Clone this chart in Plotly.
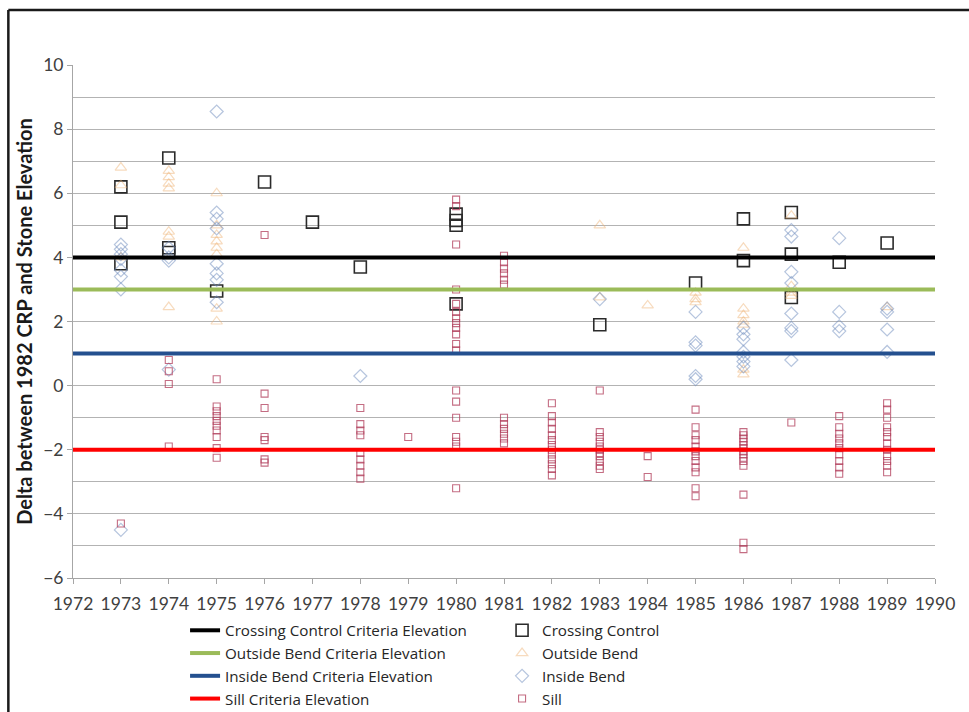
import plotly.graph_objects as go

# ---- data -------------------------------------------------------------
cc_years = [1973, 1973, 1973, 1974, 1974, 1974, 1975, 1976, 1977, 1978,
            1980, 1980, 1980, 1980, 1983, 1985, 1986, 1986, 1987, 1987, 1987,
            1988, 1989]
cc_values = [6.2, 5.1, 3.8, 7.1, 4.3, 4.15, 2.95, 6.35, 5.1, 3.7,
             5.35, 5.15, 5.0, 2.55, 1.9, 3.2, 5.2, 3.9, 5.4, 4.1, 2.75,
             3.85, 4.45]

ob_years = [1973, 1973, 1973,
            1974, 1974, 1974, 1974, 1974, 1974, 1974,
            1975, 1975, 1975, 1975, 1975, 1975, 1975, 1975,
            1983, 1983, 1984, 1985, 1985, 1985,
            1986, 1986, 1986, 1986, 1986, 1986, 1986,
            1987, 1987, 1987, 1987, 1989]
ob_values = [6.8, 6.25, 4.0,
             6.7, 6.5, 6.3, 6.15, 4.8, 4.65, 2.45,
             6.0, 5.0, 4.7, 4.5, 4.3, 4.1, 2.4, 2.0,
             5.0, 2.75, 2.5, 2.9, 2.7, 2.6,
             4.3, 2.4, 2.2, 2.0, 1.9, 0.5, 0.35,
             5.3, 3.1, 2.9, 2.8, 2.45]

ib_years = [1973] * 8 + [1974] * 4 + [1975] * 8 + [1978, 1983] + \
           [1985] * 5 + [1986] * 7 + [1987] * 8 + [1988] * 4 + [1989] * 4
ib_values = [4.4, 4.25, 4.1, 3.95, 3.6, 3.4, 3.0, -4.5,
             4.3, 4.0, 3.9, 0.5,
             8.55, 5.4, 5.2, 4.9, 3.8, 3.5, 3.3, 2.6,
             0.3, 2.7,
             2.3, 1.35, 1.25, 0.3, 0.2,
             1.8, 1.6, 1.45, 1.05, 0.9, 0.75, 0.6,
             4.85, 4.65, 3.55, 3.2, 2.25, 1.8, 1.7, 0.8,
             4.6, 2.3, 1.85, 1.7,
             2.4, 2.3, 1.75, 1.05]

sill_by_year = {
    1973: [-4.3],
    1974: [0.8, 0.45, 0.05, -1.9],
    1975: [0.2, -0.65, -0.8, -0.95, -1.1, -1.25, -1.4, -1.6, -1.95, -2.25],
    1976: [4.7, -0.25, -0.7, -1.6, -1.7, -2.3, -2.4],
    1978: [-0.7, -1.2, -1.4, -1.55, -2.1, -2.3, -2.5, -2.7, -2.9],
    1979: [-1.6],
    1980: [5.8, 5.6, 4.4, 3.0, 2.55, 2.3, 2.1, 1.95, 1.8, 1.6, 1.3, 1.1,
           -0.15, -0.5, -1.0, -1.6, -1.75, -1.9, -3.2],
    1981: [4.05, 3.85, 3.65, 3.5, 3.3, 3.15, -1.0, -1.2, -1.35, -1.5, -1.65, -1.8],
    1982: [-0.55, -0.95, -1.15, -1.35, -1.55, -1.7, -1.85, -2.0, -2.15, -2.3,
           -2.45, -2.6, -2.8],
    1983: [-0.15, -1.45, -1.6, -1.75, -1.9, -2.0, -2.1, -2.2, -2.35, -2.5, -2.6],
    1984: [-2.2, -2.85],
    1985: [-0.75, -1.3, -1.55, -1.7, -1.9, -2.05, -2.2, -2.35, -2.55, -2.7,
           -3.2, -3.45],
    1986: [-1.45, -1.55, -1.65, -1.75, -1.85, -1.95, -2.05, -2.15, -2.25, -2.35,
           -2.5, -3.4, -4.9, -5.1],
    1987: [-1.15],
    1988: [-0.95, -1.3, -1.5, -1.65, -1.8, -1.95, -2.15, -2.35, -2.55, -2.75],
    1989: [-0.55, -0.75, -1.0, -1.3, -1.45, -1.6, -1.8, -2.0, -2.2, -2.35, -2.5, -2.7],
}
sill_years = [yr for yr, vals in sill_by_year.items() for _ in vals]
sill_values = [v for vals in sill_by_year.values() for v in vals]

criteria_names = ["Crossing Control Criteria Elevation", "Outside Bend Criteria Elevation",
                  "Inside Bend Criteria Elevation", "Sill Criteria Elevation"]
criteria_values = [4, 3, 1, -2]
criteria_span = [1972, 1990]

# ---- figure -----------------------------------------------------------
FONT = "Lato"
LEGEND_FONT = "Open Sans"
fig = go.Figure()

point_series = [
    ("Crossing Control", cc_years, cc_values,
     dict(symbol="square-open", size=12, color="#2b2b2b", line=dict(width=1.6))),
    ("Outside Bend", ob_years, ob_values,
     dict(symbol="triangle-up-open", size=10, color="rgba(238,175,110,0.45)", line=dict(width=1.2))),
    ("Inside Bend", ib_years, ib_values,
     dict(symbol="diamond-open", size=10, color="rgba(110,140,190,0.5)", line=dict(width=1.2))),
    ("Sill", sill_years, sill_values,
     dict(symbol="square-open", size=7, color="rgba(176,60,90,0.75)", line=dict(width=1.1))),
]
for i, (name, xs, ys, mk) in enumerate(point_series):
    fig.add_trace(go.Scatter(x=xs, y=ys, mode="markers", name=name, marker=mk,
                             legendrank=2 * i + 2))

line_colors = ["#000000", "#9bbb59", "#24508f", "#ff0000"]
for i, (name, val, col) in enumerate(zip(criteria_names, criteria_values, line_colors)):
    fig.add_trace(go.Scatter(x=criteria_span, y=[val, val], mode="lines", name=name,
                             line=dict(color=col, width=4), legendrank=2 * i + 1))

# outer frame of the figure box
frame = dict(type="line", xref="paper", yref="paper", line=dict(color="#1a1a1a", width=2.5))
fig.add_shape(x0=-0.075, x1=1.2, y0=1.107, y1=1.107, **frame)
fig.add_shape(x0=-0.075, x1=-0.075, y0=1.107, y1=-0.4, **frame)

fig.update_layout(
    width=969, height=712,
    margin=dict(l=73, r=34, t=65, b=134, autoexpand=False),
    paper_bgcolor="white", plot_bgcolor="white",
    font=dict(family=FONT, size=17, color="#404040"),
    showlegend=True,
    legend=dict(orientation="h", x=0.13, xanchor="left", y=-0.07, yanchor="top",
                entrywidth=272, entrywidthmode="pixels", traceorder="normal",
                font=dict(family=LEGEND_FONT, size=15.2, color="#262626"),
                tracegroupgap=0, itemwidth=30),
)
fig.update_xaxes(range=[1972, 1990], dtick=1, showgrid=False, zeroline=False,
                 showline=True, linecolor="#a6a6a6", linewidth=1,
                 ticks="outside", ticklen=5, tickcolor="#a6a6a6", ticklabelstandoff=5,
                 tickfont=dict(family=FONT, size=17.5, color="#404040"))
fig.update_yaxes(range=[-6, 10], dtick=2, zeroline=False,
                 showgrid=True, gridcolor="#b3b3b3", gridwidth=1,
                 minor=dict(dtick=1, showgrid=True, gridcolor="#b3b3b3", gridwidth=1),
                 showline=True, linecolor="#a6a6a6", linewidth=1,
                 ticks="outside", ticklen=5, tickcolor="#a6a6a6",
                 tickfont=dict(family=FONT, size=17.5, color="#404040"),
                 title=dict(text="<b>Delta between 1982 CRP and Stone Elevation</b>",
                            font=dict(family=FONT, size=20, color="#1a1a1a"),
                            standoff=5))

fig.write_html("out.html")
